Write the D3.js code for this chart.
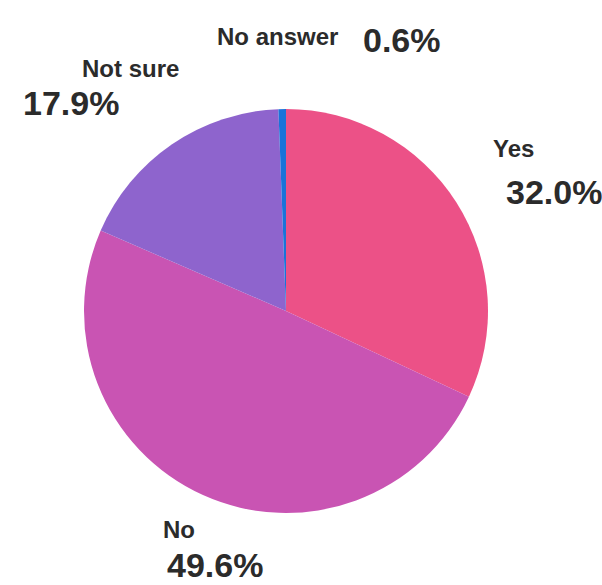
<!DOCTYPE html>
<html>
<head>
<meta charset="utf-8">
<script src="https://cdn.jsdelivr.net/npm/d3@7"></script>
<style>
  html, body { margin: 0; padding: 0; background: #ffffff; }
  svg { display: block; }
  text { font-family: "Liberation Sans", Arial, sans-serif; font-weight: bold; fill: #2b2b2b; }
</style>
</head>
<body>
<svg id="chart" width="602" height="585"></svg>
<script>
const categories = ["Yes", "No", "Not sure", "No answer"];
const values = [32.0, 49.6, 17.9, 0.6];
const valueLabels = ["32.0%", "49.6%", "17.9%", "0.6%"];
const colors = ["#ec5187", "#c954b3", "#8e64cd", "#1a73d9"];

// label layout (name position and percent position, left-aligned baselines)
const labelLayout = {
  "Yes":       { name: [493, 157], pct: [506, 204] },
  "No":        { name: [163, 538], pct: [167, 577] },
  "Not sure":  { name: [82, 77],   pct: [23, 115] },
  "No answer": { name: [217, 45],  pct: [363, 52] }
};

const svg = d3.select("#chart");
const cx = 286, cy = 311, radius = 202;

const data = categories.map((c, i) => ({ name: c, value: values[i], label: valueLabels[i], color: colors[i] }));

const pie = d3.pie().value(d => d.value).sort(null);
const arc = d3.arc().innerRadius(0).outerRadius(radius);

const g = svg.append("g").attr("transform", `translate(${cx},${cy})`);
g.selectAll("path")
  .data(pie(data))
  .join("path")
  .attr("d", arc)
  .attr("fill", d => d.data.color);

const labels = svg.append("g");
data.forEach(d => {
  const L = labelLayout[d.name];
  labels.append("text")
    .attr("x", L.name[0]).attr("y", L.name[1])
    .attr("font-size", 24)
    .text(d.name);
  labels.append("text")
    .attr("x", L.pct[0]).attr("y", L.pct[1])
    .attr("font-size", 34)
    .text(d.label);
});
</script>
</body>
</html>
